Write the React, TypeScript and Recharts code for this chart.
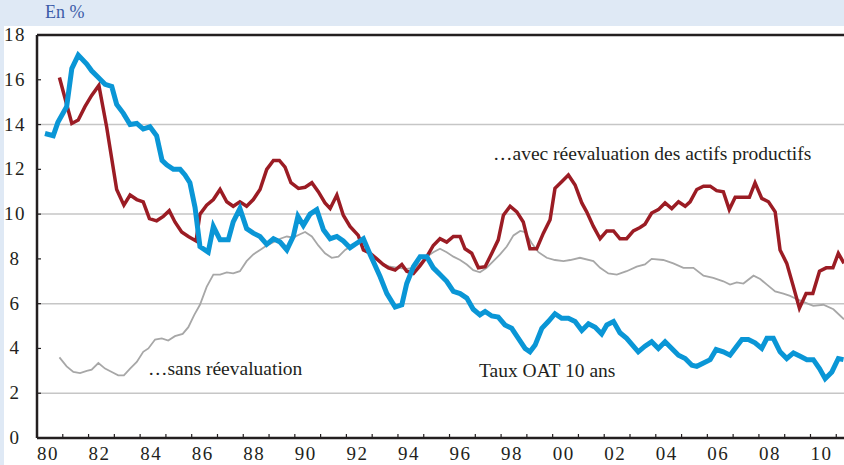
import { LineChart, Line, XAxis, YAxis, ReferenceLine } from "recharts";

// Taux OAT 10 ans
const oatYears = [
  1980.31, 1980.63, 1980.81, 1981.15, 1981.35, 1981.6, 1981.93, 1982.12, 1982.38, 1982.64,
  1982.9, 1983.09, 1983.35, 1983.61, 1983.87, 1984.12, 1984.38, 1984.64, 1984.85, 1985.03,
  1985.29, 1985.55, 1985.74, 1985.93, 1986.13, 1986.32, 1986.64, 1986.84, 1987.1, 1987.42,
  1987.61, 1987.87, 1988.13, 1988.39, 1988.65, 1988.91, 1989.17, 1989.43, 1989.69, 1989.94,
  1990.12, 1990.33, 1990.59, 1990.85, 1991.11, 1991.37, 1991.63, 1991.88, 1992.14, 1992.4,
  1992.66, 1992.92, 1993.31, 1993.57, 1993.89, 1994.15, 1994.34, 1994.6, 1994.86, 1995.12,
  1995.37, 1995.63, 1995.89, 1996.15, 1996.41, 1996.67, 1996.92, 1997.18, 1997.38, 1997.64,
  1997.89, 1998.15, 1998.41, 1998.67, 1998.93, 1999.12, 1999.32, 1999.58, 1999.83, 2000.09,
  2000.35, 2000.61, 2000.87, 2001.13, 2001.39, 2001.65, 2001.9, 2002.1, 2002.36, 2002.61,
  2002.87, 2003.13, 2003.32, 2003.58, 2003.84, 2004.1, 2004.36, 2004.62, 2004.88, 2005.14,
  2005.4, 2005.59, 2005.85, 2006.11, 2006.34, 2006.62, 2006.88, 2007.14, 2007.34, 2007.59,
  2007.85, 2008.11, 2008.31, 2008.56, 2008.82, 2009.08, 2009.34, 2009.6, 2009.86, 2010.11,
  2010.35, 2010.57, 2010.83, 2011.08, 2011.28,
];
const oatValues = [
  13.6, 13.5, 14.1, 14.8, 16.5, 17.1, 16.7, 16.4, 16.1, 15.8,
  15.7, 14.9, 14.5, 14.0, 14.05, 13.8, 13.9, 13.5, 12.4, 12.2,
  12.0, 12.0, 11.75, 11.4, 10.3, 8.55, 8.3, 9.45, 8.85, 8.85,
  9.65, 10.25, 9.35, 9.15, 9.0, 8.65, 8.9, 8.75, 8.4, 9.0,
  9.9, 9.5, 10.0, 10.2, 9.3, 8.9, 9.0, 8.8, 8.5, 8.7,
  8.9, 8.2, 7.2, 6.45, 5.85, 5.95, 6.9, 7.65, 8.1, 8.1,
  7.6, 7.3, 7.0, 6.55, 6.45, 6.25, 5.75, 5.5, 5.65, 5.45,
  5.4, 5.05, 4.9, 4.45, 4.0, 3.85, 4.15, 4.9, 5.2, 5.55,
  5.35, 5.35, 5.2, 4.8, 5.1, 4.95, 4.65, 5.05, 5.2, 4.7,
  4.45, 4.1, 3.85, 4.1, 4.3, 4.0, 4.3, 4.0, 3.7, 3.55,
  3.25, 3.2, 3.35, 3.5, 3.95, 3.85, 3.7, 4.1, 4.4, 4.4,
  4.25, 4.0, 4.45, 4.45, 3.85, 3.55, 3.8, 3.65, 3.5, 3.5,
  3.1, 2.65, 2.95, 3.55, 3.5,
];

// ...avec réevaluation des actifs productifs
const avecYears = [
  1980.87, 1981.35, 1981.6, 1981.86, 1982.12, 1982.4, 1982.7, 1983.09, 1983.37, 1983.61,
  1983.87, 1984.12, 1984.36, 1984.64, 1984.9, 1985.13, 1985.35, 1985.61, 1985.87, 1986.17,
  1986.32, 1986.58, 1986.84, 1987.1, 1987.36, 1987.61, 1987.87, 1988.13, 1988.39, 1988.65,
  1988.91, 1989.17, 1989.4, 1989.62, 1989.85, 1990.14, 1990.4, 1990.66, 1990.91, 1991.17,
  1991.37, 1991.63, 1991.88, 1992.14, 1992.46, 1992.66, 1992.92, 1993.18, 1993.43, 1993.63,
  1993.89, 1994.15, 1994.34, 1994.6, 1994.86, 1995.12, 1995.37, 1995.63, 1995.89, 1996.15,
  1996.41, 1996.6, 1996.86, 1997.12, 1997.38, 1997.64, 1997.89, 1998.09, 1998.35, 1998.61,
  1998.86, 1999.12, 1999.38, 1999.64, 1999.9, 2000.09, 2000.35, 2000.61, 2000.87, 2001.13,
  2001.32, 2001.58, 2001.84, 2002.1, 2002.36, 2002.61, 2002.87, 2003.13, 2003.39, 2003.58,
  2003.84, 2004.1, 2004.36, 2004.62, 2004.88, 2005.14, 2005.33, 2005.59, 2005.85, 2006.11,
  2006.36, 2006.62, 2006.85, 2007.08, 2007.34, 2007.63, 2007.85, 2008.11, 2008.37, 2008.63,
  2008.82, 2009.08, 2009.34, 2009.57, 2009.83, 2010.09, 2010.35, 2010.61, 2010.87, 2011.08,
  2011.3,
];
const avecValues = [
  16.1, 14.05, 14.2, 14.8, 15.3, 15.75, 13.9, 11.1, 10.4, 10.85,
  10.65, 10.55, 9.8, 9.7, 9.9, 10.15, 9.65, 9.2, 9.0, 8.8,
  10.0, 10.4, 10.65, 11.1, 10.55, 10.35, 10.55, 10.35, 10.65, 11.1,
  12.0, 12.4, 12.4, 12.1, 11.4, 11.15, 11.2, 11.4, 11.0, 10.5,
  10.25, 10.85, 9.95, 9.45, 9.05, 8.4, 8.25, 8.0, 7.75, 7.6,
  7.5, 7.75, 7.45, 7.35, 7.7, 8.1, 8.6, 8.9, 8.75, 9.0,
  9.0, 8.45, 8.25, 7.6, 7.65, 8.25, 8.85, 9.95, 10.35, 10.1,
  9.65, 8.45, 8.45, 9.15, 9.75, 11.15, 11.45, 11.75, 11.3, 10.5,
  10.1, 9.45, 8.9, 9.25, 9.25, 8.9, 8.9, 9.25, 9.4, 9.55,
  10.05, 10.2, 10.5, 10.25, 10.55, 10.35, 10.55, 11.1, 11.25, 11.25,
  11.05, 11.0, 10.2, 10.75, 10.75, 10.75, 11.4, 10.7, 10.55, 10.1,
  8.4, 7.8, 6.75, 5.8, 6.45, 6.45, 7.45, 7.6, 7.6, 8.25,
  7.8,
];

// ...sans réevaluation
const sansYears = [
  1980.87, 1981.15, 1981.41, 1981.67, 1981.93, 1982.12, 1982.38, 1982.64, 1982.9, 1983.15,
  1983.37, 1983.61, 1983.87, 1984.12, 1984.32, 1984.58, 1984.84, 1985.09, 1985.35, 1985.65,
  1985.87, 1986.1, 1986.32, 1986.58, 1986.84, 1987.1, 1987.36, 1987.61, 1987.87, 1988.13,
  1988.39, 1988.65, 1988.91, 1989.17, 1989.43, 1989.69, 1989.94, 1990.2, 1990.4, 1990.66,
  1990.91, 1991.17, 1991.43, 1991.69, 1991.95, 1992.21, 1992.46, 1992.66, 1992.85, 1993.11,
  1993.37, 1993.69, 1994.01, 1994.34, 1994.6, 1994.86, 1995.12, 1995.37, 1995.63, 1995.89,
  1996.15, 1996.41, 1996.67, 1996.92, 1997.18, 1997.44, 1997.7, 1997.96, 1998.22, 1998.48,
  1998.74, 1998.93, 1999.19, 1999.45, 1999.77, 2000.09, 2000.42, 2000.68, 2001.06, 2001.58,
  2001.84, 2002.16, 2002.49, 2002.87, 2003.26, 2003.58, 2003.84, 2004.29, 2004.68, 2005.07,
  2005.46, 2005.85, 2006.23, 2006.62, 2006.88, 2007.14, 2007.4, 2007.79, 2008.05, 2008.31,
  2008.63, 2008.95, 2009.21, 2009.47, 2009.79, 2010.11, 2010.5, 2010.89, 2011.3,
];
const sansValues = [
  3.6, 3.2, 2.95, 2.9, 3.0, 3.05, 3.35, 3.1, 2.95, 2.8,
  2.8, 3.1, 3.4, 3.85, 4.0, 4.4, 4.45, 4.35, 4.55, 4.65,
  4.95, 5.5, 5.95, 6.75, 7.3, 7.3, 7.4, 7.35, 7.45, 7.9,
  8.2, 8.4, 8.6, 8.75, 8.9, 9.0, 8.95, 9.1, 9.2, 9.0,
  8.6, 8.25, 8.05, 8.1, 8.4, 8.6, 8.8, 8.85, 8.4, 8.0,
  7.8, 7.65, 7.6, 7.55, 7.6, 7.8, 8.1, 8.3, 8.45, 8.3,
  8.1, 7.95, 7.75, 7.5, 7.4, 7.6, 7.9, 8.2, 8.55, 9.05,
  9.25, 9.2, 8.7, 8.3, 8.05, 7.95, 7.9, 7.95, 8.05, 7.9,
  7.6, 7.35, 7.3, 7.45, 7.65, 7.75, 8.0, 7.95, 7.8, 7.6,
  7.6, 7.25, 7.15, 7.0, 6.85, 6.95, 6.9, 7.25, 7.1, 6.85,
  6.55, 6.45, 6.35, 6.2, 6.05, 5.9, 5.95, 5.75, 5.3,
];

const yearTicks = Array.from({ length: 32 }, (_, i) => 1980 + i);
const valueTicks = [0, 2, 4, 6, 8, 10, 12, 14, 16, 18];
const gridValues = [2, 6, 10, 14];

const toData = (years: number[], values: number[]) =>
  years.map((t, i) => ({ t, v: values[i] }));

const oatData = toData(oatYears, oatValues);
const avecData = toData(avecYears, avecValues);
const sansData = toData(sansYears, sansValues);

const FONT = "'Liberation Serif', 'Times New Roman', 'DejaVu Serif', serif";
const INK = "#231f20";

function XTick({ x, y, payload }: any) {
  const yr = payload.value as number;
  return (
    <g>
      <line x1={x} x2={x} y1={y} y2={y - 4} stroke={INK} strokeWidth={1.2} />
      {yr % 2 === 0 && (
        <text
          x={x}
          y={y + 22}
          textAnchor="start"
          fill={INK}
          fontSize={19}
          letterSpacing={1.5}
          style={{ fontFamily: FONT }}
        >
          {String(yr % 100).padStart(2, "0")}
        </text>
      )}
    </g>
  );
}

function YTick({ x, y, payload }: any) {
  return (
    <g>
      <line x1={x} x2={x + 4} y1={y} y2={y} stroke={INK} strokeWidth={1.2} />
      <text
        x={x - 22}
        y={y + 6}
        textAnchor="middle"
        fill={INK}
        fontSize={19}
        letterSpacing={1.5}
        style={{ fontFamily: FONT }}
      >
        {payload.value}
      </text>
    </g>
  );
}

const noteStyle: React.CSSProperties = {
  position: "absolute",
  fontFamily: FONT,
  fontSize: 19.5,
  color: INK,
  whiteSpace: "nowrap",
  lineHeight: 1,
};

export default function App() {
  return (
    <div
      style={{
        position: "absolute",
        left: 0,
        top: 0,
        width: 844,
        height: 465,
        background: "#dfe9f5",
        overflow: "hidden",
      }}
    >
      <div
        style={{
          position: "absolute",
          left: 45,
          top: 3,
          fontFamily: FONT,
          fontSize: 18,
          lineHeight: 1,
          color: "#3c5ca8",
        }}
      >
        En %
      </div>
      <div
        style={{
          position: "absolute",
          left: 4,
          top: 26,
          width: 840,
          height: 439,
          background: "#fff",
        }}
      />
      <div style={{ position: "absolute", left: 0, top: 0 }}>
        <LineChart
          width={844}
          height={465}
          margin={{ top: 35, right: 0, bottom: 0, left: 0 }}
        >
          {gridValues.map((g) => (
            <ReferenceLine key={g} y={g} stroke="#c6c6c6" strokeWidth={1.5} />
          ))}
          <ReferenceLine y={18} stroke={INK} strokeWidth={2.5} />
          <XAxis
            type="number"
            dataKey="t"
            domain={[1980, 2011.3]}
            ticks={yearTicks}
            interval={0}
            allowDataOverflow
            height={27}
            tickSize={0}
            tickMargin={0}
            tickLine={false}
            axisLine={{ stroke: INK, strokeWidth: 2.5 }}
            tick={<XTick />}
          />
          <YAxis
            type="number"
            domain={[0, 18]}
            ticks={valueTicks}
            interval={0}
            width={37}
            tickSize={0}
            tickMargin={0}
            tickLine={false}
            axisLine={{ stroke: INK, strokeWidth: 2.5 }}
            tick={<YTick />}
          />
          <Line
            data={sansData}
            dataKey="v"
            type="linear"
            stroke="#a7a7a7"
            strokeWidth={1.8}
            dot={false}
            isAnimationActive={false}
          />
          <Line
            data={avecData}
            dataKey="v"
            type="linear"
            stroke="#9b1c24"
            strokeWidth={3.5}
            dot={false}
            isAnimationActive={false}
          />
          <Line
            data={oatData}
            dataKey="v"
            type="linear"
            stroke="#0a96d6"
            strokeWidth={5}
            dot={false}
            isAnimationActive={false}
          />
        </LineChart>
      </div>
      <div style={{ ...noteStyle, left: 493, top: 144 }}>
        …avec réevaluation des actifs productifs
      </div>
      <div style={{ ...noteStyle, left: 148, top: 359 }}>…sans réevaluation</div>
      <div style={{ ...noteStyle, left: 479, top: 361 }}>Taux OAT 10 ans</div>
    </div>
  );
}
